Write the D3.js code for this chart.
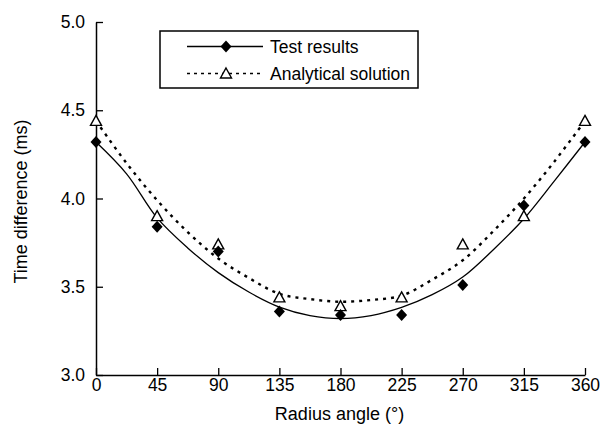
<!DOCTYPE html>
<html>
<head>
<meta charset="utf-8">
<script src="https://cdn.jsdelivr.net/npm/d3@7"></script>
<style>
  html, body { margin: 0; padding: 0; background: #fff; }
  svg { display: block; font-family: "Liberation Sans", Arial, sans-serif; }
</style>
</head>
<body>
<svg id="chart" width="601" height="433"></svg>
<script>
// ---- data ----
const angles = [0, 45, 90, 135, 180, 225, 270, 315, 360];
const testResults = [4.32, 3.84, 3.70, 3.36, 3.34, 3.34, 3.51, 3.96, 4.32];
const analytical = [4.44, 3.90, 3.74, 3.44, 3.39, 3.44, 3.74, 3.90, 4.44];
// fitted curves as drawn in the figure
const fitAngles = [0, 22.5, 45, 67.5, 90, 112.5, 135, 157.5, 180, 202.5, 225, 247.5, 270, 292.5, 315, 337.5, 360];
const testFit = [4.32, 4.14, 3.89, 3.72, 3.58, 3.47, 3.385, 3.337, 3.32, 3.337, 3.383, 3.455, 3.555, 3.71, 3.885, 4.10, 4.32];
const analyticalFit = [4.44, 4.20, 3.99, 3.81, 3.66, 3.55, 3.46, 3.43, 3.415, 3.425, 3.45, 3.54, 3.65, 3.815, 4.00, 4.21, 4.44];
const xTicks = [0, 45, 90, 135, 180, 225, 270, 315, 360];
const yTicks = [3.0, 3.5, 4.0, 4.5, 5.0];
const seriesNames = ["Test results", "Analytical solution"];
const xTitle = "Radius angle (°)";
const yTitle = "Time difference (ms)";

// ---- layout ----
const svg = d3.select("#chart");
const x = d3.scaleLinear().domain([0, 360]).range([96, 585]);
const y = d3.scaleLinear().domain([3.0, 5.0]).range([375, 22]);

const diamond = "M0,-6L5.5,0L0,6L-5.5,0Z";
const triangle = "M0,-5.5L5.5,4.5L-5.5,4.5Z";

// axes
const xAxis = d3.axisBottom(x).tickValues(xTicks).tickFormat(d3.format("d"))
  .tickSizeInner(-7).tickSizeOuter(0).tickPadding(4);
const yAxis = d3.axisLeft(y).tickValues(yTicks).tickFormat(d3.format(".1f"))
  .tickSizeInner(-7).tickSizeOuter(0).tickPadding(11);

const gx = svg.append("g").attr("transform", `translate(0,${y(3.0)})`).call(xAxis);
const gy = svg.append("g").attr("transform", `translate(${x(0)},0)`).call(yAxis);
[gx, gy].forEach(g => {
  g.select(".domain").attr("stroke", "#000").attr("stroke-width", 1.5);
  g.selectAll(".tick line").attr("stroke", "#000").attr("stroke-width", 1.3);
  g.selectAll(".tick text").attr("fill", "#000").style("font-size", "17.5px")
    .style("font-family", "'Liberation Sans', Arial, sans-serif");
});

// axis titles
svg.append("text").attr("x", (x(0) + x(360)) / 2 - 1).attr("y", 420)
  .attr("text-anchor", "middle").style("font-size", "18px").text(xTitle);
svg.append("text").attr("transform", `translate(27,${(y(3) + y(5)) / 2 + 3}) rotate(-90)`)
  .attr("text-anchor", "middle").style("font-size", "18px").text(yTitle);

// curves
const line = d3.line().curve(d3.curveCatmullRom.alpha(0.5));
svg.append("path")
  .attr("d", line(fitAngles.map((a, i) => [x(a), y(analyticalFit[i])])))
  .attr("fill", "none").attr("stroke", "#000").attr("stroke-width", 2.4)
  .attr("stroke-dasharray", "3,5");
svg.append("path")
  .attr("d", line(fitAngles.map((a, i) => [x(a), y(testFit[i])])))
  .attr("fill", "none").attr("stroke", "#000").attr("stroke-width", 1.3);

// markers
svg.append("g").selectAll("path").data(angles).join("path")
  .attr("transform", (a, i) => `translate(${x(a)},${y(analytical[i])})`)
  .attr("d", triangle).attr("fill", "#fff").attr("stroke", "#000").attr("stroke-width", 1.4);
svg.append("g").selectAll("path").data(angles).join("path")
  .attr("transform", (a, i) => `translate(${x(a)},${y(testResults[i])})`)
  .attr("d", diamond).attr("fill", "#000");

// legend
const lg = svg.append("g");
lg.append("rect").attr("x", 160).attr("y", 31).attr("width", 258).attr("height", 57)
  .attr("fill", "#fff").attr("stroke", "#000").attr("stroke-width", 1.5);
const rows = [46.5, 73.5];
lg.append("line").attr("x1", 187).attr("x2", 263).attr("y1", rows[0]).attr("y2", rows[0])
  .attr("stroke", "#000").attr("stroke-width", 1.3);
lg.append("path").attr("transform", `translate(226,${rows[0]})`).attr("d", diamond).attr("fill", "#000");
lg.append("line").attr("x1", 187).attr("x2", 263).attr("y1", rows[1]).attr("y2", rows[1])
  .attr("stroke", "#000").attr("stroke-width", 1.5).attr("stroke-dasharray", "3,4");
lg.append("path").attr("transform", `translate(226,${rows[1]})`).attr("d", triangle)
  .attr("fill", "#fff").attr("stroke", "#000").attr("stroke-width", 1.4);
seriesNames.forEach((n, i) => {
  lg.append("text").attr("x", 270).attr("y", rows[i]).attr("dy", "0.35em")
    .style("font-size", "17.5px").text(n);
});
</script>
</body>
</html>
